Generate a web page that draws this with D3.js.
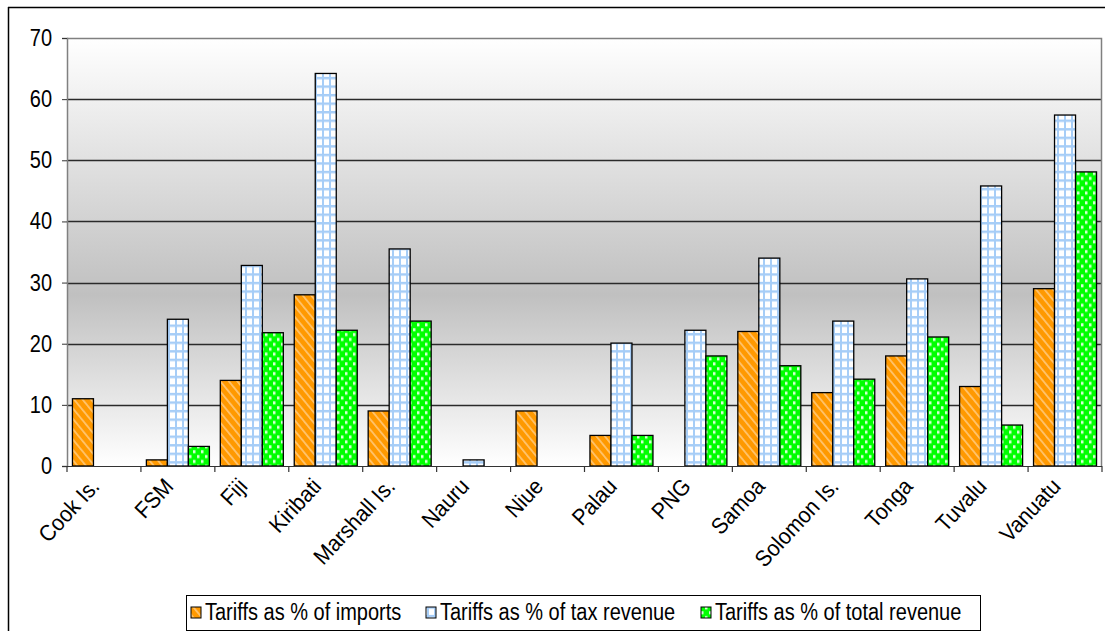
<!DOCTYPE html>
<html>
<head>
<meta charset="utf-8">
<script src="https://cdn.jsdelivr.net/npm/d3@7"></script>
<style>
  html, body { margin: 0; padding: 0; background: #fff; }
  svg { display: block; font-family: "Liberation Sans", Arial, sans-serif; }
</style>
</head>
<body>
<svg id="chart" width="1105" height="631"></svg>
<script>
// Pacific island economies: tariffs relative to imports, tax revenue and total revenue
const categories = ["Cook Is.", "FSM", "Fiji", "Kiribati", "Marshall Is.", "Nauru", "Niue",
                    "Palau", "PNG", "Samoa", "Solomon Is.", "Tonga", "Tuvalu", "Vanuatu"];
const seriesNames = ["Tariffs as % of imports", "Tariffs as % of tax revenue", "Tariffs as % of total revenue"];
// null = no bar drawn for that country
const importsPct  = [11, 1, 14, 28, 9, null, 9, 5, null, 22, 12, 18, 13, 29];
const taxRevPct   = [null, 24, 32.8, 64.2, 35.5, 1, null, 20.1, 22.2, 34, 23.7, 30.6, 45.8, 57.4];
const totalRevPct = [null, 3.2, 21.8, 22.2, 23.7, null, null, 5, 18, 16.4, 14.2, 21.1, 6.7, 48.1];
const yTicks = [0, 10, 20, 30, 40, 50, 60, 70];

const seriesValues = [importsPct, taxRevPct, totalRevPct];
const patternIds = ["patOrange", "patBlue", "patGreen"];

const svg = d3.select("#chart");
const plot = { left: 67, right: 1102, top: 38, bottom: 466 };
const FONT = 20;
const SY = 1.15;   // text is drawn slightly taller than wide
const PSY = 1.22;  // vertical stretch of the fill textures

const defs = svg.append("defs");

// background gradient of the plot area
const grad = defs.append("linearGradient").attr("id", "bgGrad")
  .attr("x1", 0).attr("y1", 0).attr("x2", 0).attr("y2", 1);
grad.append("stop").attr("offset", "0%").attr("stop-color", "#ffffff");
grad.append("stop").attr("offset", "60%").attr("stop-color", "#c0c0c0");
grad.append("stop").attr("offset", "100%").attr("stop-color", "#ffffff");

// orange with light diagonal stripes
const pO = defs.append("pattern").attr("id", "patOrange").attr("patternUnits", "userSpaceOnUse")
  .attr("width", 6).attr("height", 6).attr("patternTransform", `scale(1,${PSY}) rotate(-45)`);
pO.append("rect").attr("width", 6).attr("height", 6).attr("fill", "#ff9900");
pO.append("rect").attr("width", 1.6).attr("height", 6).attr("fill", "#ffc46e");

// white squares in a light blue grid
const pB = defs.append("pattern").attr("id", "patBlue").attr("patternUnits", "userSpaceOnUse")
  .attr("width", 7).attr("height", 7).attr("patternTransform", `scale(1,${PSY})`);
pB.append("rect").attr("width", 7).attr("height", 7).attr("fill", "#ffffff");
pB.append("rect").attr("width", 2).attr("height", 7).attr("fill", "#a6cdf7");
pB.append("rect").attr("width", 7).attr("height", 2).attr("fill", "#a6cdf7");

// bright green with pale dots
const pG = defs.append("pattern").attr("id", "patGreen").attr("patternUnits", "userSpaceOnUse")
  .attr("width", 8).attr("height", 8).attr("patternTransform", `scale(1,${PSY})`);
pG.append("rect").attr("width", 8).attr("height", 8).attr("fill", "#00ff00");
pG.append("rect").attr("x", 1).attr("y", 1).attr("width", 2.5).attr("height", 2.5).attr("fill", "#d8ffd8");
pG.append("rect").attr("x", 5).attr("y", 5).attr("width", 2.5).attr("height", 2.5).attr("fill", "#d8ffd8");

// outer frame (top and left edges visible)
svg.append("line").attr("x1", 8).attr("y1", 7.5).attr("x2", 1105).attr("y2", 7.5)
  .attr("stroke", "#000").attr("stroke-width", 1.5);
svg.append("line").attr("x1", 8.5).attr("y1", 7).attr("x2", 8.5).attr("y2", 631)
  .attr("stroke", "#000").attr("stroke-width", 1.5);

const x = d3.scaleBand().domain(categories).range([plot.left, plot.right]).paddingInner(0).paddingOuter(0);
const xs = d3.scaleBand().domain(d3.range(3)).range([0, x.bandwidth()]).paddingOuter(0.26).paddingInner(0);
const y = d3.scaleLinear().domain([0, 70]).range([plot.bottom, plot.top]);

// plot background
svg.append("rect")
  .attr("x", plot.left).attr("y", plot.top)
  .attr("width", plot.right - plot.left).attr("height", plot.bottom - plot.top)
  .attr("fill", "url(#bgGrad)");

// horizontal gridlines
svg.append("g").selectAll("line").data(yTicks.filter(t => t > 0 && t < 70)).join("line")
  .attr("x1", plot.left).attr("x2", plot.right)
  .attr("y1", d => Math.round(y(d)) + 0.5).attr("y2", d => Math.round(y(d)) + 0.5)
  .attr("stroke", "#2a2a2a").attr("stroke-width", 1.3);

// plot border top/right
svg.append("path")
  .attr("d", `M${plot.left},${plot.top + 0.5}H${plot.right - 0.5}V${plot.bottom}`)
  .attr("fill", "none").attr("stroke", "#808080").attr("stroke-width", 1.5);

// bars
const barLayer = svg.append("g");
seriesValues.forEach((vals, s) => {
  barLayer.append("g").selectAll("rect")
    .data(categories.map((c, i) => ({ c, v: vals[i] })).filter(d => d.v !== null))
    .join("rect")
    .attr("x", d => x(d.c) + xs(s))
    .attr("width", xs.bandwidth())
    .attr("y", d => y(d.v))
    .attr("height", d => y(0) - y(d.v))
    .attr("fill", `url(#${patternIds[s]})`)
    .attr("stroke", "#000").attr("stroke-width", 1.3);
});

// y axis (line and ticks from d3, labels drawn alongside)
const yAxis = svg.append("g").attr("transform", `translate(${plot.left},0)`)
  .call(d3.axisLeft(y).tickValues(yTicks).tickSize(5).tickFormat(""));
yAxis.select(".domain").attr("stroke", "#808080").attr("stroke-width", 1.5);
yAxis.selectAll(".tick line").attr("stroke", "#333");
svg.append("g").selectAll("text").data(yTicks).join("text")
  .attr("transform", d => `translate(${plot.left - 15},${y(d)}) scale(1,${SY})`)
  .attr("text-anchor", "end")
  .attr("dy", "0.35em")
  .attr("font-size", FONT)
  .attr("fill", "#000")
  .text(d => d);

// x axis line with ticks at category boundaries
const xAxisG = svg.append("g");
xAxisG.append("line").attr("x1", plot.left).attr("x2", plot.right)
  .attr("y1", plot.bottom + 0.5).attr("y2", plot.bottom + 0.5)
  .attr("stroke", "#333").attr("stroke-width", 1.2);
const bounds = categories.map(c => x(c)).concat([plot.right]);
xAxisG.selectAll("line.tk").data(bounds).join("line").attr("class", "tk")
  .attr("x1", d => d).attr("x2", d => d)
  .attr("y1", plot.bottom).attr("y2", plot.bottom + 6)
  .attr("stroke", "#333").attr("stroke-width", 1.2);

// rotated category labels
xAxisG.selectAll("text").data(categories).join("text")
  .attr("transform", d => `translate(${x(d) + x.bandwidth() / 2 - 9},${plot.bottom + 16}) rotate(-47) scale(1,1.08)`)
  .attr("text-anchor", "end")
  .attr("dy", "0.35em")
  .attr("font-size", 21)
  .attr("fill", "#000")
  .text(d => d);

// legend
const legend = svg.append("g");
legend.append("rect").attr("x", 186.5).attr("y", 595.5).attr("width", 794).attr("height", 35)
  .attr("fill", "#fff").attr("stroke", "#000").attr("stroke-width", 1);
const legendX = [191, 426, 701];
seriesNames.forEach((name, s) => {
  legend.append("rect").attr("x", legendX[s]).attr("y", 607).attr("width", 10).attr("height", 11)
    .attr("fill", `url(#${patternIds[s]})`).attr("stroke", "#000").attr("stroke-width", 1);
  legend.append("text").attr("transform", `translate(${legendX[s] + 14},620) scale(1,${SY})`)
    .attr("font-size", FONT).attr("fill", "#000").text(name);
});
</script>
</body>
</html>
